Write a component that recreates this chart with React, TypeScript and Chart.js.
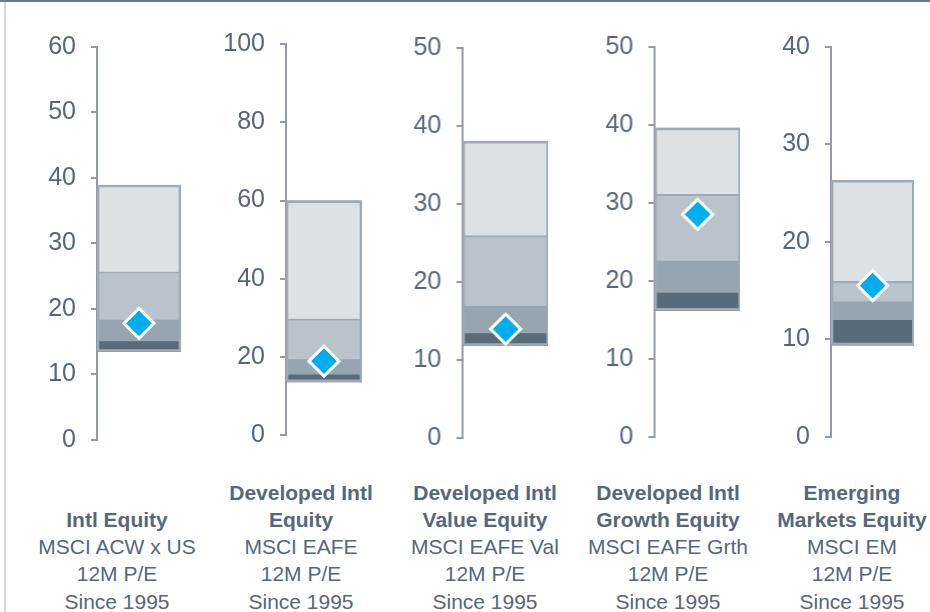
import React, { useEffect, useRef } from "react";
import { Chart, registerables } from "chart.js";

Chart.register(...registerables);

// ---- data ----
const titles: string[][] = [
  ["Intl Equity"],
  ["Developed Intl", "Equity"],
  ["Developed Intl", "Value Equity"],
  ["Developed Intl", "Growth Equity"],
  ["Emerging", "Markets Equity"],
];
const indexNames = ["MSCI ACW x US", "MSCI EAFE", "MSCI EAFE Val", "MSCI EAFE Grth", "MSCI EM"];
const metricLabel = "12M P/E";
const periodLabel = "Since 1995";

const lows = [13.5, 13.6, 11.9, 16.2, 9.4];
const band1 = [15.1, 15.6, 13.5, 18.5, 12.0];
const band2 = [18.4, 19.5, 17.0, 22.6, 13.9];
const band3 = [25.4, 29.3, 25.8, 30.9, 15.8];
const highs = [38.9, 60.0, 38.1, 39.6, 26.3];
const current = [17.8, 18.9, 14.0, 28.5, 15.5];

const axisMax = [60, 100, 50, 50, 40];
const axisStep = [10, 20, 10, 10, 10];

// ---- layout / style ----
const panelLayout = [
  { axisX: 97, barRight: 181, topY: 46.7, zeroY: 440 },
  { axisX: 286, barRight: 362, topY: 44.3, zeroY: 435 },
  { axisX: 462.3, barRight: 548, topY: 48.3, zeroY: 438.3 },
  { axisX: 654.3, barRight: 740, topY: 46.7, zeroY: 436.7 },
  { axisX: 830.7, barRight: 914, topY: 46.7, zeroY: 436.7 },
];
const labelCenters = [117, 301, 485, 668, 852];

const YW = 90;
const CH = 470;
const TXT = "#56677a";
const AX = "#8f9ba6";
const FONT = "'Liberation Sans', Arial, Helvetica, sans-serif";

function Panel({ i }: { i: number }) {
  const ref = useRef<HTMLCanvasElement | null>(null);
  const L = panelLayout[i];
  const w = YW + (L.barRight - L.axisX);
  useEffect(() => {
    if (!ref.current) return;
    const seg = (lo: number, hi: number, color: string, order: number) => ({
      type: "bar" as const,
      data: [[lo, hi]] as any,
      backgroundColor: color,
      borderColor: "rgba(0,0,0,0)",
      borderWidth: 0,
      grouped: false,
      barPercentage: 1,
      categoryPercentage: 1,
      order,
    });
    const chart = new Chart(ref.current, {
      type: "bar",
      data: {
        labels: [indexNames[i]],
        datasets: [
          {
            type: "line",
            data: [current[i]],
            showLine: false,
            pointStyle: "rectRot",
            pointRadius: 15,
            pointHoverRadius: 15,
            pointBackgroundColor: "#00aeef",
            pointBorderColor: "#ffffff",
            pointBorderWidth: 3,
            order: 0,
          } as any,
          {
            type: "bar",
            data: [[lows[i], highs[i]]] as any,
            backgroundColor: "rgba(0,0,0,0)",
            borderColor: "#9eaab4",
            borderWidth: 2,
            borderSkipped: false,
            grouped: false,
            barPercentage: 1,
            categoryPercentage: 1,
            order: 1,
          } as any,
          {
            type: "bar",
            data: [[band3[i], highs[i]]] as any,
            backgroundColor: "#dce1e6",
            borderColor: "#9eaab4",
            borderWidth: 2,
            borderSkipped: false,
            grouped: false,
            barPercentage: 1,
            categoryPercentage: 1,
            order: 2,
          } as any,
          seg(band2[i], band3[i], "#b9c3cb", 3) as any,
          seg(band1[i], band2[i], "#97a5b1", 4) as any,
          seg(lows[i], band1[i], "#596a79", 5) as any,
        ],
      },
      options: {
        animation: false,
        responsive: true,
        maintainAspectRatio: false,
        events: [],
        layout: { autoPadding: false, padding: { top: L.topY, bottom: CH - L.zeroY, left: 0, right: 0 } },
        plugins: { legend: { display: false }, tooltip: { enabled: false } },
        scales: {
          x: { display: false, offset: true },
          y: {
            min: 0,
            max: axisMax[i],
            ticks: {
              stepSize: axisStep[i],
              color: TXT,
              font: { family: FONT, size: 25 },
              padding: 15,
            },
            grid: { drawOnChartArea: false, drawTicks: true, tickLength: 6, color: AX, lineWidth: 2 },
            border: { display: true, color: AX, width: 2 },
            afterFit: (s: any) => {
              s.width = YW;
            },
          },
        },
      } as any,
    });
    return () => chart.destroy();
  }, [i]);
  return (
    <div style={{ position: "absolute", left: L.axisX - YW, top: 0, width: w, height: CH }}>
      <canvas ref={ref} />
    </div>
  );
}

function Label({ i }: { i: number }) {
  const lines: { t: string; b: boolean }[] = [
    ...titles[i].map((t) => ({ t, b: true })),
    { t: indexNames[i], b: false },
    { t: metricLabel, b: false },
    { t: periodLabel, b: false },
  ];
  return (
    <div
      style={{
        position: "absolute",
        left: labelCenters[i] - 100,
        width: 200,
        top: 478,
        height: 137,
        display: "flex",
        flexDirection: "column",
        justifyContent: "flex-end",
        textAlign: "center",
        fontFamily: FONT,
        fontSize: 21,
        lineHeight: "27.3px",
        color: TXT,
        whiteSpace: "nowrap",
      }}
    >
      {lines.map((l, k) => (
        <div key={k} style={{ fontWeight: l.b ? 700 : 400 }}>
          {l.t}
        </div>
      ))}
    </div>
  );
}

export default function App() {
  return (
    <div
      style={{
        position: "absolute",
        left: 0,
        top: 0,
        width: 930,
        height: 612,
        background: "#ffffff",
        overflow: "hidden",
      }}
    >
      <div style={{ position: "absolute", left: 0, top: 0, width: 930, height: 2, background: "#6a7a8a" }} />
      <div style={{ position: "absolute", left: 4, top: 2, width: 2, height: 610, background: "#d3dbe3" }} />
      {[0, 1, 2, 3, 4].map((i) => (
        <Panel key={i} i={i} />
      ))}
      {[0, 1, 2, 3, 4].map((i) => (
        <Label key={"l" + i} i={i} />
      ))}
    </div>
  );
}
